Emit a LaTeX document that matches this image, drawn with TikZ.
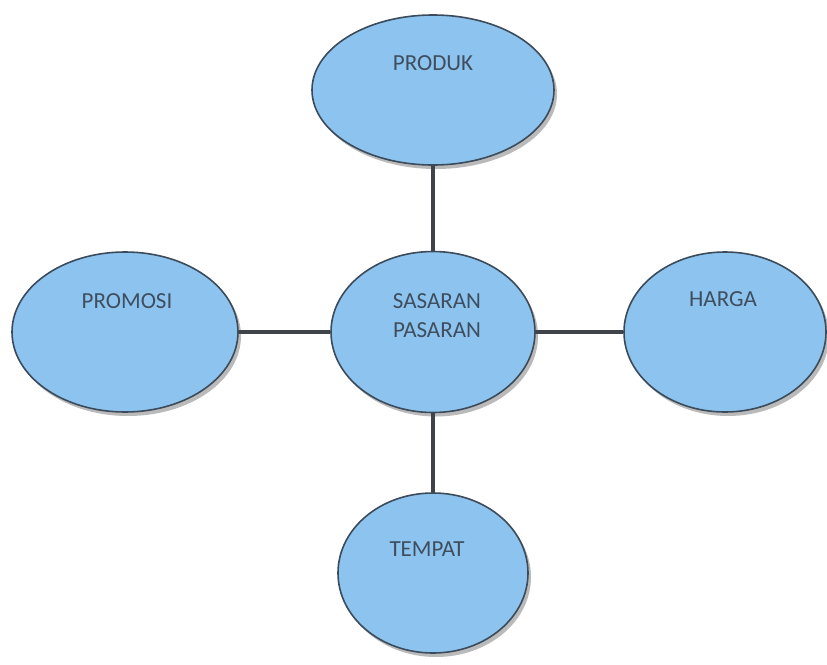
\documentclass[tikz,border=0pt]{standalone}
\usepackage{fontspec}
\setmainfont{Carlito}
\usetikzlibrary{shapes.geometric,shadows}
\definecolor{bubble}{HTML}{8DC4EF}
\definecolor{rim}{HTML}{3C4B5B}
\definecolor{ink}{HTML}{3F4E5E}
\definecolor{wire}{HTML}{404448}
\tikzset{
  bubble/.style={ellipse, draw=rim, line width=1.6pt, fill=bubble, inner sep=0pt,
    drop shadow={shadow xshift=3pt, shadow yshift=-4pt, opacity=0.45, fill=black!60}},
  caption/.style={text=ink, font=\fontsize{23}{29}\selectfont, align=center, inner sep=0pt},
  wire/.style={draw=wire, line width=4pt}
}
\begin{document}
\begin{tikzpicture}[x=1pt,y=-1pt]
\useasboundingbox[fill=white] (0,0) rectangle (827,664);
% ellipses
\node[bubble, minimum width=242pt, minimum height=150pt] (produk) at (433,90) {};
\node[bubble, minimum width=204pt, minimum height=161pt] (sas) at (433,332) {};
\node[bubble, minimum width=226pt, minimum height=160pt] (promosi) at (125,332) {};
\node[bubble, minimum width=202pt, minimum height=160pt] (harga) at (725,332) {};
\node[bubble, minimum width=190pt, minimum height=160pt] (tempat) at (433,573) {};
% connectors
\draw[wire] (produk) -- (sas);
\draw[wire] (promosi) -- (sas);
\draw[wire] (sas) -- (harga);
\draw[wire] (sas) -- (tempat);
% texts
\node[caption] (tprod) at (433,63) {PRODUK};
\node[caption] (tsas) at (437,316) {SASARAN\\PASARAN};
\node[caption] (tprom) at (127,301) {PROMOSI};
\node[caption] (tharga) at (723,299) {HARGA};
\node[caption] (ttemp) at (427,549) {TEMPAT};
\end{tikzpicture}
\end{document}
